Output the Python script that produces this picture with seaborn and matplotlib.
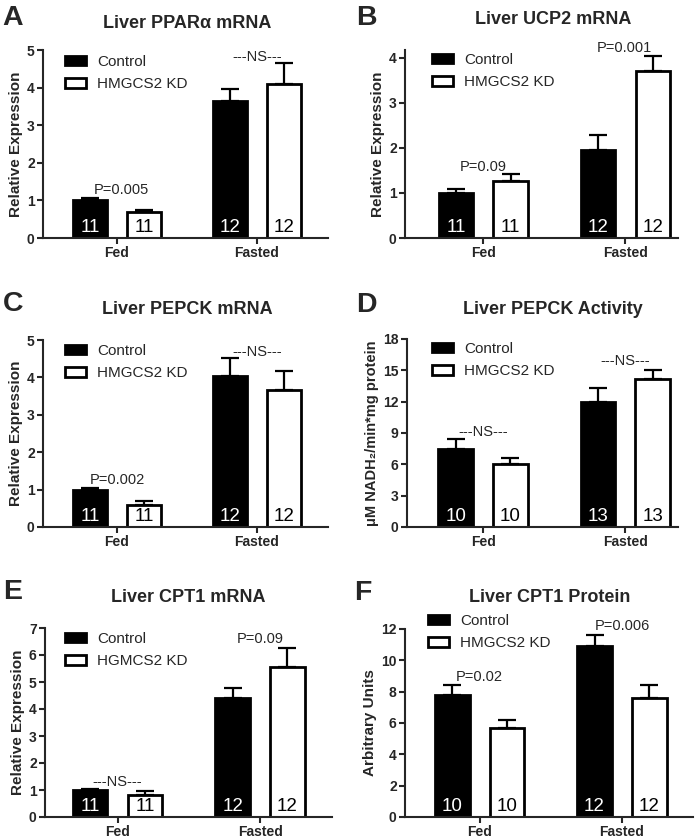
import numpy as np
import pandas as pd
import matplotlib
matplotlib.use('Agg')
import matplotlib.pyplot as plt
import seaborn as sns
from matplotlib.patches import Patch

# categories
states = ['Fed', 'Fasted']
groups = ['Control', 'HMGCS2 KD']

# A - Liver PPARa mRNA
ppar_ctrl = [1.00, 3.65]
ppar_ctrl_sem = [0.07, 0.30]
ppar_kd = [0.68, 4.10]
ppar_kd_sem = [0.07, 0.56]
ppar_n = [11, 12]

# B - Liver UCP2 mRNA
ucp2_ctrl = [1.00, 1.96]
ucp2_ctrl_sem = [0.08, 0.32]
ucp2_kd = [1.26, 3.70]
ucp2_kd_sem = [0.15, 0.34]
ucp2_n = [11, 12]

# C - Liver PEPCK mRNA
pepck_ctrl = [1.00, 4.04]
pepck_ctrl_sem = [0.05, 0.49]
pepck_kd = [0.60, 3.65]
pepck_kd_sem = [0.10, 0.53]
pepck_n = [11, 12]

# D - Liver PEPCK activity
pepact_ctrl = [7.45, 11.95]
pepact_ctrl_sem = [0.95, 1.38]
pepact_kd = [6.00, 14.20]
pepact_kd_sem = [0.58, 0.83]
pepact_n = [10, 13]

# E - Liver CPT1 mRNA
cpt1_ctrl = [0.99, 4.42]
cpt1_ctrl_sem = [0.05, 0.34]
cpt1_kd = [0.83, 5.54]
cpt1_kd_sem = [0.12, 0.72]
cpt1_n = [11, 12]

# F - Liver CPT1 protein
cpt1p_ctrl = [7.78, 10.92]
cpt1p_ctrl_sem = [0.64, 0.70]
cpt1p_kd = [5.65, 7.61]
cpt1p_kd_sem = [0.51, 0.81]
cpt1p_n = [10, 12]

sns.set_style('ticks')
plt.rcParams['font.family'] = ['Liberation Sans', 'DejaVu Sans']

W, H = 700, 840
fig = plt.figure(figsize=(W / 100, H / 100), dpi=100)

pal = {'Control': 'black', 'HMGCS2 KD': 'white'}


def draw_panel(box, ctrl, ctrl_sem, kd, kd_sem, n, xlim, ylim, yticks, ylabel,
               title, title_xy, letter, letter_xy, leg_off, leg_labels, notes,
               ylabel_size=11):
    left, top, right, bottom = box
    ax = fig.add_axes([left / W, 1 - bottom / H, (right - left) / W, (bottom - top) / H])
    df = pd.DataFrame({'state': states * 2,
                       'group': [groups[0]] * 2 + [groups[1]] * 2,
                       'value': ctrl + kd})
    sns.barplot(data=df, x='state', y='value', hue='group', order=states,
                hue_order=groups, palette=pal, edgecolor='black', linewidth=2,
                width=0.77, gap=0.37, errorbar=None, legend=False, ax=ax)
    for cont, sems, tcol in zip(ax.containers, [ctrl_sem, kd_sem], ['white', 'black']):
        for bar, s, c in zip(cont, sems, n):
            x = bar.get_x() + bar.get_width() / 2
            h = bar.get_height()
            ax.errorbar([x], [h], yerr=[[0], [s]], fmt='none', ecolor='black',
                        elinewidth=1.6, capsize=6.5, capthick=1.6, zorder=1)
            ax.annotate(str(c), (x, 0), xytext=(0, 1.5), textcoords='offset points',
                        ha='center', va='bottom', fontsize=13.5, color=tcol)
    ax.set_xlim(*xlim)
    ax.set_ylim(*ylim)
    ax.set_yticks(yticks)
    ax.set_xlabel('')
    ax.set_ylabel(ylabel, fontsize=ylabel_size, fontweight='bold', labelpad=3)
    for lab in ax.get_xticklabels() + ax.get_yticklabels():
        lab.set_fontweight('bold')
    ax.tick_params(axis='both', labelsize=10, length=4, width=1.5, pad=2)
    sns.despine(ax=ax)
    for sp in ['left', 'bottom']:
        ax.spines[sp].set_linewidth(1.5)
    for gi, yv, txt in notes:
        ax.text(gi, yv, txt, ha='center', va='center', fontsize=10.5)

    handles = [Patch(facecolor='black', edgecolor='black', lw=2),
               Patch(facecolor='white', edgecolor='black', lw=2)]
    hpx = bottom - top
    wpx = right - left
    ax.legend(handles, leg_labels, loc='upper left', frameon=False,
              bbox_to_anchor=(leg_off[0] / wpx, 1 - (leg_off[1] - 8) / hpx),
              fontsize=11, handlelength=1.4, handleheight=0.6, handletextpad=0.7,
              labelspacing=0.55, borderpad=0, borderaxespad=0)

    fig.text(title_xy[0] / W, 1 - title_xy[1] / H, title, ha='center', va='center',
             fontsize=13, fontweight='bold')
    fig.text(letter_xy[0] / W, 1 - letter_xy[1] / H, letter, ha='left', va='center',
             fontsize=20.5, fontweight='bold')
    return ax


kd_labels = ['Control', 'HMGCS2 KD']

draw_panel((43, 50, 328, 238), ppar_ctrl, ppar_ctrl_sem, ppar_kd, ppar_kd_sem, ppar_n,
           (-0.53, 1.51), (0, 5), [0, 1, 2, 3, 4, 5], 'Relative Expression',
           'Liver PPAR\u03b1 mRNA', (187, 23), 'A', (2, 18), (22, 13), kd_labels,
           [(0.03, 1.28, 'P=0.005'), (1.0, 4.81, '---NS---')])

draw_panel((405, 50, 678, 238), ucp2_ctrl, ucp2_ctrl_sem, ucp2_kd, ucp2_kd_sem, ucp2_n,
           (-0.55, 1.37), (0, 4.17), [0, 1, 2, 3, 4], 'Relative Expression',
           'Liver UCP2 mRNA', (553, 20), 'B', (356, 18), (27, 11), kd_labels,
           [(0.0, 1.58, 'P=0.09'), (0.99, 4.22, 'P=0.001')])

draw_panel((43, 340, 328, 527), pepck_ctrl, pepck_ctrl_sem, pepck_kd, pepck_kd_sem, pepck_n,
           (-0.53, 1.51), (0, 5), [0, 1, 2, 3, 4, 5], 'Relative Expression',
           'Liver PEPCK mRNA', (187, 310), 'C', (3, 304), (22, 12), kd_labels,
           [(0.0, 1.26, 'P=0.002'), (1.0, 4.68, '---NS---')])

draw_panel((407, 339, 678, 527), pepact_ctrl, pepact_ctrl_sem, pepact_kd, pepact_kd_sem, pepact_n,
           (-0.535, 1.37), (0, 18), [0, 3, 6, 9, 12, 15, 18],
           '\u03bcM NADH\u2082/min*mg protein',
           'Liver PEPCK Activity', (553, 310), 'D', (356, 305), (25, 11), kd_labels,
           [(0.0, 9.13, '---NS---'), (1.0, 15.87, '---NS---')], ylabel_size=10.5)

draw_panel((45, 628, 332, 817), cpt1_ctrl, cpt1_ctrl_sem, cpt1_kd, cpt1_kd_sem, cpt1_n,
           (-0.51, 1.505), (0, 7), [0, 1, 2, 3, 4, 5, 6, 7], 'Relative Expression',
           'Liver CPT1 mRNA', (188, 598), 'E', (3, 592), (20, 12), ['Control', 'HGMCS2 KD'],
           [(0.0, 1.30, '---NS---'), (1.0, 6.58, 'P=0.09')])

draw_panel((405, 629, 693, 817), cpt1p_ctrl, cpt1p_ctrl_sem, cpt1p_kd, cpt1p_kd_sem, cpt1p_n,
           (-0.525, 1.50), (0, 12), [0, 2, 4, 6, 8, 10, 12], 'Arbitrary Units',
           'Liver CPT1 Protein', (550, 598), 'F', (354, 593), (23, -7), kd_labels,
           [(0.0, 8.96, 'P=0.02'), (1.0, 12.16, 'P=0.006')])

fig.savefig('out.png', dpi=100)
